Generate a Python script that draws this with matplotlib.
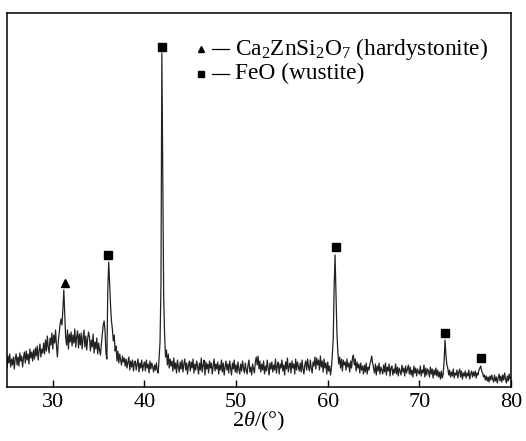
import numpy as np
import matplotlib
matplotlib.use("Agg")
import matplotlib.pyplot as plt
from matplotlib.lines import Line2D

plt.rcParams['font.family'] = ['Liberation Serif', 'DejaVu Serif']
plt.rcParams['mathtext.fontset'] = 'custom'
plt.rcParams['mathtext.rm'] = 'Liberation Serif'
plt.rcParams['mathtext.it'] = 'Liberation Serif:italic'

# 2-theta scan: start, step (degrees)
two_theta_start = 25.0
two_theta_step = 0.1

# intensity (a.u.), one row per degree (x.0 ... x.9)
intensity = [
    19, 31, 24, 33, 20, 28, 22, 30, 18, 29,      # 25
    33, 22, 30, 21, 34, 26, 31, 20, 29, 35,      # 26
    24, 36, 27, 33, 23, 38, 29, 35, 26, 37,      # 27
    28, 39, 31, 41, 27, 36, 43, 30, 38, 34,      # 28
    44, 33, 47, 36, 51, 40, 34, 49, 42, 54,      # 29
    38, 52, 44, 57, 41, 30, 46, 55, 63, 68,      # 30
    62, 78, 97, 72, 50, 42, 57, 38, 53, 45,      # 31
    55, 41, 52, 44, 58, 40, 50, 56, 39, 53,      # 32
    42, 54, 38, 49, 57, 40, 51, 37, 48, 55,      # 33
    50, 36, 47, 40, 53, 34, 45, 38, 49, 33,      # 34
    44, 37, 32, 43, 52, 62, 66, 56, 34, 28,      # 35
    98, 125, 104, 82, 66, 58, 46, 52, 36, 41,    # 36
    26, 36, 24, 33, 27, 22, 31, 25, 29, 21,      # 37
    28, 19, 25, 30, 17, 26, 20, 27, 16, 24,      # 38
    26, 17, 23, 28, 15, 24, 19, 27, 16, 22,      # 39
    25, 16, 27, 19, 23, 14, 26, 18, 24, 20,      # 40
    15, 22, 17, 24, 16, 14, 30, 45, 100, 334,    # 41
    210, 88, 52, 30, 37, 22, 33, 19, 28, 21,     # 42
    26, 16, 29, 18, 24, 14, 27, 20, 15, 25,      # 43
    18, 27, 15, 23, 28, 17, 24, 13, 22, 26,      # 44
    16, 25, 19, 28, 14, 23, 17, 26, 21, 13,      # 45
    24, 17, 29, 15, 22, 27, 12, 25, 18, 23,      # 46
    14, 26, 19, 24, 13, 21, 28, 16, 23, 18,      # 47
    25, 13, 22, 17, 27, 15, 24, 12, 20, 26,      # 48
    17, 23, 14, 26, 19, 12, 24, 18, 27, 15,      # 49
    22, 14, 25, 18, 13, 23, 16, 26, 19, 14,      # 50
    24, 17, 13, 22, 27, 15, 20, 12, 23, 18,      # 51
    14, 25, 30, 22, 31, 18, 26, 15, 23, 17,      # 52
    26, 13, 21, 16, 27, 19, 12, 24, 18, 25,      # 53
    15, 22, 17, 28, 14, 21, 25, 13, 23, 19,      # 54
    27, 16, 22, 12, 25, 18, 29, 15, 21, 24,      # 55
    14, 26, 19, 23, 13, 28, 17, 25, 20, 16,      # 56
    24, 15, 27, 18, 13, 22, 26, 17, 28, 20,      # 57
    16, 27, 19, 14, 25, 21, 30, 18, 29, 22,      # 58
    27, 17, 31, 20, 26, 15, 28, 19, 24, 13,      # 59
    25, 16, 21, 12, 19, 32, 48, 100, 132, 92,    # 60
    55, 35, 23, 30, 19, 28, 16, 27, 22, 25,      # 61
    17, 28, 20, 24, 15, 26, 19, 29, 32, 22,      # 62
    28, 16, 25, 19, 23, 14, 24, 17, 21, 13,      # 63
    22, 15, 24, 13, 20, 17, 23, 26, 31, 24,      # 64
    19, 14, 23, 12, 21, 16, 24, 13, 20, 17,      # 65
    13, 22, 15, 24, 12, 20, 16, 23, 11, 19,      # 66
    21, 12, 18, 14, 23, 13, 20, 11, 19, 16,      # 67
    12, 22, 15, 19, 11, 21, 14, 18, 22, 13,      # 68
    20, 12, 17, 10, 21, 14, 19, 11, 18, 15,      # 69
    13, 21, 11, 17, 14, 22, 10, 19, 12, 18,      # 70
    16, 10, 20, 13, 18, 9, 17, 12, 19, 11,       # 71
    17, 10, 15, 8, 16, 9, 13, 26, 47, 32,        # 72
    22, 19, 12, 17, 10, 15, 11, 18, 9, 14,       # 73
    12, 17, 9, 15, 18, 10, 16, 8, 14, 11,        # 74
    16, 9, 14, 11, 17, 8, 13, 16, 10, 15,        # 75
    11, 16, 9, 14, 12, 17, 19, 21, 16, 14,       # 76
    10, 12, 7, 11, 6, 10, 5, 11, 7, 12,          # 77
    8, 5, 12, 6, 10, 4, 9, 13, 6, 11,            # 78
    5, 12, 7, 14, 8, 4, 11, 6, 13, 8,            # 79
    10,                                          # 80
]

# phase markers
hardystonite_pos = [31.3]
hardystonite_h = [104]
wustite_pos = [36.05, 41.95, 60.85, 72.8, 76.7]
wustite_h = [132, 340, 140, 54, 29]

legend_labels = [r"Ca$_2$ZnSi$_2$O$_7$ (hardystonite)", "FeO (wustite)"]
xticks = [30, 40, 50, 60, 70, 80]

two_theta = two_theta_start + two_theta_step * np.arange(len(intensity))

fig = plt.figure(figsize=(5.26, 4.41), dpi=100)
ax = fig.add_axes([0.0133, 0.1224, 0.9582, 0.8481])

ax.plot(two_theta, intensity, color='#222222', lw=0.9)
ax.plot(hardystonite_pos, hardystonite_h, linestyle='none', marker='^', color='black', markersize=6)
ax.plot(wustite_pos, wustite_h, linestyle='none', marker='s', color='black', markersize=5.5)

ax.set_xlim(25, 80)
ax.set_ylim(0, 374)
ax.set_yticks([])
ax.set_xticks(xticks)
ax.tick_params(axis='x', direction='in', length=5, width=1, labelsize=16, pad=4)
for s in ax.spines.values():
    s.set_linewidth(1.1)

ax.set_xlabel(r"2$\it{\theta}$/(°)", fontsize=16, labelpad=-1)

# manual legend
rows_y = [0.905, 0.838]
mk = ['^', 's']
for yy, m, lab in zip(rows_y, mk, legend_labels):
    ax.plot([0.384], [yy], transform=ax.transAxes, marker=m, color='black',
            markersize=5 if m == '^' else 4.5, linestyle='none', clip_on=False)
    ax.add_line(Line2D([0.406, 0.44], [yy, yy], transform=ax.transAxes, color='black', lw=0.9))
    ax.text(0.452, yy, lab, transform=ax.transAxes, fontsize=16.8, va='center', ha='left')

fig.savefig('out.png', dpi=100)
